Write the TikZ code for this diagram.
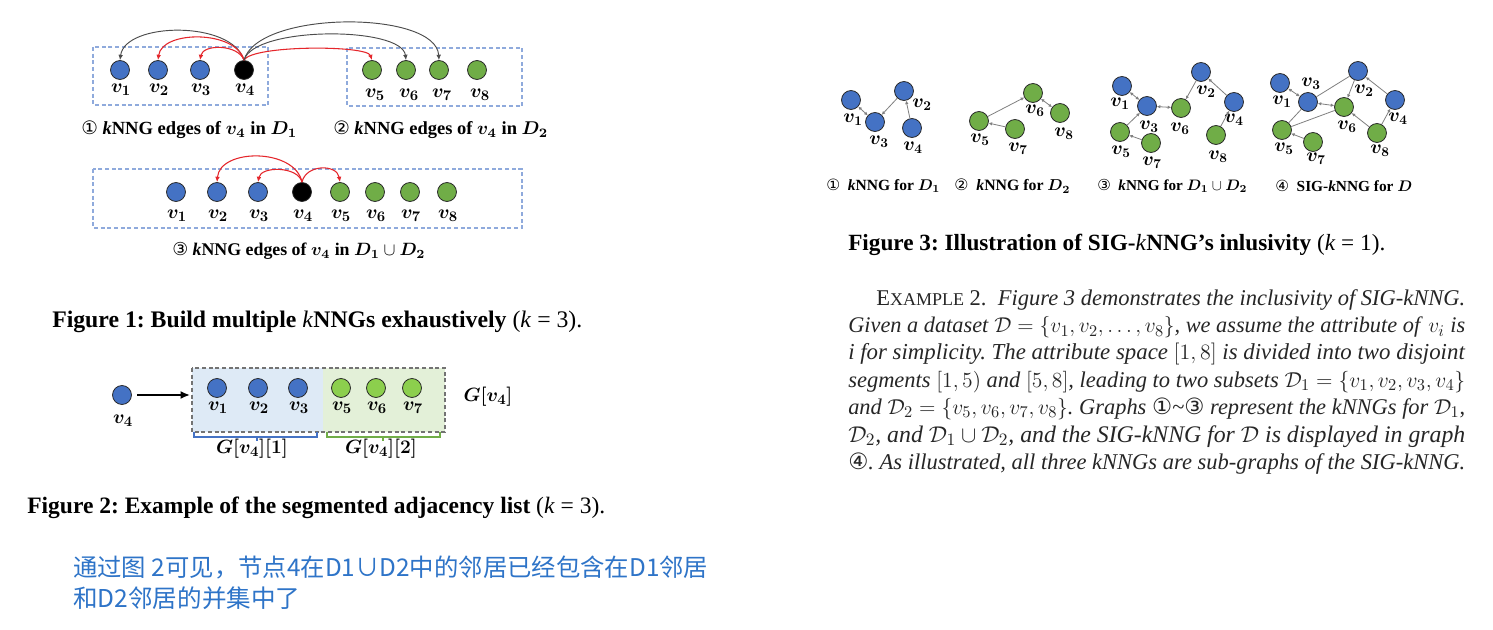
\documentclass[tikz,border=0pt]{standalone}
\usepackage{fontspec}
\setmainfont{Liberation Serif}
\newfontfamily\djv{DejaVu Sans}
\newfontfamily\cjk{Noto Sans CJK SC}
\usepackage{bm}
\usetikzlibrary{arrows.meta}
\newlength\px \setlength\px{0.75pt}
\newcommand\fitw[2]{\resizebox{#1\px}{!}{#2}}
\newcommand\cn[1]{{\djv #1}}
\definecolor{nblue}{HTML}{4472C4}
\definecolor{ngreen}{HTML}{70AD47}
\definecolor{lgreen}{HTML}{8CCF4D}
\definecolor{dashblue}{HTML}{8FAADC}
\definecolor{arcred}{HTML}{E5262B}
\definecolor{cntext}{HTML}{2E74C8}
\definecolor{fillblue}{HTML}{DEEAF6}
\definecolor{fillgreen}{HTML}{E3F0D8}
\frenchspacing
\begin{document}
\begin{tikzpicture}[x=0.75pt,y=-0.75pt,
  vtx/.style={circle, draw=black!85, line width=0.6pt, minimum size=14.2pt, inner sep=0pt},
  bv/.style={vtx, fill=nblue},
  gv/.style={vtx, fill=ngreen},
  lv/.style={vtx, fill=lgreen},
  kv/.style={vtx, fill=black},
  lab/.style={inner sep=0pt, font=\fontsize{15.5}{17}\selectfont},
  slab/.style={inner sep=0pt, font=\fontsize{14}{16}\selectfont},
  txt/.style={inner sep=0pt, anchor=west},
  redcurve/.style={draw=arcred, line width=0.8pt, -{Latex[length=4pt,width=3.5pt]}},
  blkcurve/.style={draw=black!70, line width=0.7pt, -{Latex[length=4pt,width=3.5pt]}},
  dbox/.style={draw=dashblue, line width=0.8pt, dash pattern=on 3pt off 2pt},
  gbox/.style={draw=black!55, line width=0.8pt, dash pattern=on 3pt off 2pt},
  gedge/.style={draw=black!50, line width=0.6pt},
  garr/.style={gedge, -{Latex[length=2.6pt,width=2.6pt]}},
  gbi/.style={gedge, {Latex[length=2.6pt,width=2.6pt]}-{Latex[length=2.6pt,width=2.6pt]}}
]
\fill[white] (0,0) rectangle (1493,630);
\useasboundingbox (0,0) rectangle (1493,630);

% ---------------- Figure 1, top row
\draw[dbox] (93,47) rectangle (268,105);
\draw[dbox] (347,48) rectangle (522,106);
\node[bv] (a1) at (120,70) {};
\node[bv] (a2) at (158,70) {};
\node[bv] (a3) at (200,70) {};
\node[kv] (a4) at (244,70) {};
\node[gv] (a5) at (372,70) {};
\node[gv] (a6) at (406,70) {};
\node[gv] (a7) at (439,70) {};
\node[gv] (a8) at (477,70) {};
\node[lab] (la1) at (121,90) {$\bm{v_1}$};
\node[lab] (la2) at (159,90) {$\bm{v_2}$};
\node[lab] (la3) at (201,90) {$\bm{v_3}$};
\node[lab] (la4) at (245,90) {$\bm{v_4}$};
\node[lab] (la5) at (375,95) {$\bm{v_5}$};
\node[lab] (la6) at (409,95) {$\bm{v_6}$};
\node[lab] (la7) at (442,95) {$\bm{v_7}$};
\node[lab] (la8) at (480,95) {$\bm{v_8}$};
\draw[blkcurve] (a4.north) .. controls (232,20) and (125,22) .. (a1.north);
\draw[redcurve] (a4.north) .. controls (236,30) and (162,30) .. (a2.north);
\draw[redcurve] (a4.north) .. controls (238,44) and (203,44) .. (a3.north);
\draw[redcurve] (a4.north) .. controls (252,45) and (367,45) .. (a5.north);
\draw[blkcurve] (a4.north) .. controls (254,26) and (402,26) .. (a6.north);
\draw[blkcurve] (a4.north) .. controls (258,10) and (436,10) .. (a7.north);
\node[txt] (cap1) at (81,130) {\fitw{216}{\cn{①} \textbf{\textit{k}NNG edges of} $\bm{v_4}$ \textbf{in} $\bm{D_1}$}};
\node[txt] (cap2) at (333,130) {\fitw{215}{\cn{②} \textbf{\textit{k}NNG edges of} $\bm{v_4}$ \textbf{in} $\bm{D_2}$}};

% ---------------- Figure 1, bottom row
\draw[dbox] (93,169) rectangle (522,228);
\node[bv] (b1) at (176,192) {};
\node[bv] (b2) at (217,192) {};
\node[bv] (b3) at (258,192) {};
\node[kv] (b4) at (302,192) {};
\node[gv] (b5) at (340,192) {};
\node[gv] (b6) at (375,192) {};
\node[gv] (b7) at (410,192) {};
\node[gv] (b8) at (447,192) {};
\node[lab] (lb1) at (177,216) {$\bm{v_1}$};
\node[lab] (lb2) at (218,216) {$\bm{v_2}$};
\node[lab] (lb3) at (259,216) {$\bm{v_3}$};
\node[lab] (lb4) at (303,216) {$\bm{v_4}$};
\node[lab] (lb5) at (341,216) {$\bm{v_5}$};
\node[lab] (lb6) at (376,216) {$\bm{v_6}$};
\node[lab] (lb7) at (411,216) {$\bm{v_7}$};
\node[lab] (lb8) at (448,216) {$\bm{v_8}$};
\draw[redcurve] (b4.north) .. controls (295,148) and (220,148) .. (b2.north);
\draw[redcurve] (b4.north) .. controls (298,166) and (261,166) .. (b3.north);
\draw[redcurve] (b4.north) .. controls (306,164) and (337,164) .. (b5.north);
\node[txt] (cap3) at (172,251) {\fitw{253}{\cn{③} \textbf{\textit{k}NNG edges of} $\bm{v_4}$ \textbf{in} $\bm{D_1}\cup\bm{D_2}$}};

\node[txt] (fig1) at (52,322) {\fitw{530}{\textbf{Figure 1: Build multiple }\textit{k}\textbf{NNGs exhaustively} (\textit{k} = 3).}};

% ---------------- Figure 2
\fill[fillblue] (192,368) rectangle (323,432);
\fill[fillgreen] (323,368) rectangle (445,432);
\draw[gbox] (192,368) rectangle (445,432);
\node[bv] (f4) at (122,395) {};
\node[bv] (f1) at (217,388) {};
\node[bv] (f2) at (258,388) {};
\node[bv] (f3) at (298,388) {};
\node[lv] (f5) at (341,388) {};
\node[lv] (f6) at (376,388) {};
\node[lv] (f7) at (412,388) {};
\node[lab] (lf4) at (123,421) {$\bm{v_4}$};
\node[lab] (lf1) at (218,408) {$\bm{v_1}$};
\node[lab] (lf2) at (259,408) {$\bm{v_2}$};
\node[lab] (lf3) at (299,408) {$\bm{v_3}$};
\node[lab] (lf5) at (342,408) {$\bm{v_5}$};
\node[lab] (lf6) at (377,408) {$\bm{v_6}$};
\node[lab] (lf7) at (413,408) {$\bm{v_7}$};
\coordinate (fend) at (190,395);
\draw[line width=1.3pt, -{Latex[length=7pt,width=6pt]}, shorten <=4pt] (f4) -- (fend);
\draw[nblue, line width=0.8pt] (194,432) -- (194,437) -- (317,437) -- (317,432);
\draw[nblue, line width=0.8pt] (257,437) -- (257,441);
\draw[ngreen, line width=0.8pt] (327,432) -- (327,437) -- (440,437) -- (440,432);
\draw[ngreen, line width=0.8pt] (383,437) -- (383,441);
\node[lab] (g1) at (252,449) {$\bm{G[v_4][1]}$};
\node[lab] (g2) at (381,449) {$\bm{G[v_4][2]}$};
\node[lab] (g0) at (488,397) {$\bm{G[v_4]}$};
\node[txt] (fig2) at (27,508) {\fitw{578}{\textbf{Figure 2: Example of the segmented adjacency list} (\textit{k} = 3).}};

% ---------------- Chinese note
\node[txt, text=cntext] (zh1) at (73,568) {\fitw{635}{\cjk 通过图 2可见，节点4在D1∪D2中的邻居已经包含在D1邻居}};
\node[txt, text=cntext] (zh2) at (73,598) {\fitw{227}{\cjk 和D2邻居的并集中了}};

% ---------------- Figure 3, graph 1
\node[bv] (p1) at (851,100) {};
\node[bv] (p3) at (875,122) {};
\node[bv] (p2) at (904,91) {};
\node[bv] (p4) at (912,128) {};
\node[slab] (lp1) at (853,120) {$\bm{v_1}$};
\node[slab] (lp3) at (879,142) {$\bm{v_3}$};
\node[slab] (lp2) at (922,105) {$\bm{v_2}$};
\node[slab] (lp4) at (913,148) {$\bm{v_4}$};
\draw[gbi] (p1) -- (p3);
\draw[garr] (p2) -- (p3);
\draw[garr] (p4) -- (p2);
% graph 2
\node[gv] (q6) at (1033,93) {};
\node[gv] (q5) at (979,121) {};
\node[gv] (q7) at (1015,129) {};
\node[gv] (q8) at (1060,113) {};
\node[slab] (lq6) at (1035,111) {$\bm{v_6}$};
\node[slab] (lq5) at (980,140) {$\bm{v_5}$};
\node[slab] (lq7) at (1018,149) {$\bm{v_7}$};
\node[slab] (lq8) at (1064,134) {$\bm{v_8}$};
\draw[garr] (q5) -- (q6);
\draw[garr] (q7) -- (q5);
\draw[gbi] (q6) -- (q8);
% graph 3
\node[bv] (r1) at (1122,86) {};
\node[bv] (r3) at (1147,106) {};
\node[gv] (r6) at (1181,108) {};
\node[bv] (r2) at (1201,72) {};
\node[bv] (r4) at (1234,102) {};
\node[gv] (r5) at (1120,132) {};
\node[gv] (r7) at (1151,143) {};
\node[gv] (r8) at (1216,135) {};
\node[slab] (lr1) at (1120,104) {$\bm{v_1}$};
\node[slab] (lr3) at (1149,127) {$\bm{v_3}$};
\node[slab] (lr6) at (1180,129) {$\bm{v_6}$};
\node[slab] (lr2) at (1206,92) {$\bm{v_2}$};
\node[slab] (lr4) at (1234,120) {$\bm{v_4}$};
\node[slab] (lr5) at (1121,152) {$\bm{v_5}$};
\node[slab] (lr7) at (1152,163) {$\bm{v_7}$};
\node[slab] (lr8) at (1218,157) {$\bm{v_8}$};
\draw[gbi] (r1) -- (r3);
\draw[gbi] (r3) -- (r6);
\draw[garr] (r5) -- (r3);
\draw[garr] (r7) -- (r5);
\draw[garr] (r2) -- (r6);
\draw[garr] (r4) -- (r2);
\draw[garr] (r8) -- (r4);
% graph 4
\node[bv] (s1) at (1280,83) {};
\node[bv] (s3) at (1308,102) {};
\node[bv] (s2) at (1358,71) {};
\node[gv] (s6) at (1344,107) {};
\node[bv] (s4) at (1395,100) {};
\node[gv] (s5) at (1282,130) {};
\node[gv] (s7) at (1313,142) {};
\node[gv] (s8) at (1377,133) {};
\node[slab] (ls3) at (1311,84) {$\bm{v_3}$};
\node[slab] (ls1) at (1282,102) {$\bm{v_1}$};
\node[slab] (ls2) at (1364,91) {$\bm{v_2}$};
\node[slab] (ls6) at (1347,127) {$\bm{v_6}$};
\node[slab] (ls4) at (1398,119) {$\bm{v_4}$};
\node[slab] (ls5) at (1284,149) {$\bm{v_5}$};
\node[slab] (ls7) at (1316,159) {$\bm{v_7}$};
\node[slab] (ls8) at (1380,151) {$\bm{v_8}$};
\draw[gbi] (s1) -- (s3);
\draw[gbi] (s3) -- (s6);
\draw[gedge] (s2) -- (s3);
\draw[garr] (s2) -- (s6);
\draw[gedge] (s5) -- (s3);
\draw[gedge] (s5) -- (s6);
\draw[garr] (s7) -- (s5);
\draw[garr] (s8) -- (s6);
\draw[garr] (s8) -- (s4);
\draw[garr] (s4) -- (s2);
% small captions
\node[txt] (sc1) at (826,186) {\fitw{114}{\cn{①}\enspace\textbf{\textit{k}NNG for} $\bm{D_1}$}};
\node[txt] (sc2) at (954,186) {\fitw{116}{\cn{②}\enspace\textbf{\textit{k}NNG for} $\bm{D_2}$}};
\node[txt] (sc3) at (1097,186) {\fitw{150}{\cn{③}\enspace\textbf{\textit{k}NNG for} $\bm{D_1}\cup\bm{D_2}$}};
\node[txt] (sc4) at (1275,186) {\fitw{137}{\cn{④}\enspace\textbf{SIG-\textit{k}NNG for} $\bm{D}$}};
\node[txt] (fig3) at (848,245) {\fitw{537}{\textbf{Figure 3: Illustration of SIG-}\textit{k}\textbf{NNG’s inlusivity} (\textit{k} = 1).}};

% ---------------- Example 2 paragraph
\begin{scope}[every node/.style={txt, text=black!85, font=\fontsize{15}{17}\selectfont}]
\node (e1) at (876,300) {\fitw{589}{E{\fontsize{12}{13}\selectfont XAMPLE} 2.\enspace\textit{Figure 3 demonstrates the inclusivity of SIG-kNNG.}}};
\node (e2) at (848,327.5) {\fitw{617}{\textit{Given a dataset} $\mathcal{D}=\{v_1,v_2,\ldots,v_8\}$\textit{, we assume the attribute of} $v_i$ \textit{is}}};
\node (e3) at (848,354.5) {\fitw{617}{\textit{i for simplicity. The attribute space} $[1,8]$ \textit{is divided into two disjoint}}};
\node (e4) at (848,382) {\fitw{617}{\textit{segments} $[1,5)$ \textit{and} $[5,8]$\textit{, leading to two subsets} $\mathcal{D}_1=\{v_1,v_2,v_3,v_4\}$}};
\node (e5) at (848,409) {\fitw{617}{\textit{and} $\mathcal{D}_2=\{v_5,v_6,v_7,v_8\}$\textit{. Graphs} \cn{①}\textit{\textasciitilde}\cn{③} \textit{represent the kNNGs for} $\mathcal{D}_1$,}};
\node (e6) at (848,436.5) {\fitw{617}{$\mathcal{D}_2$\textit{, and} $\mathcal{D}_1\cup\mathcal{D}_2$\textit{, and the SIG-kNNG for} $\mathcal{D}$ \textit{is displayed in graph}}};
\node (e7) at (848,464) {\fitw{617}{\cn{④}\textit{. As illustrated, all three kNNGs are sub-graphs of the SIG-kNNG.}}};
\end{scope}
\end{tikzpicture}
\end{document}
